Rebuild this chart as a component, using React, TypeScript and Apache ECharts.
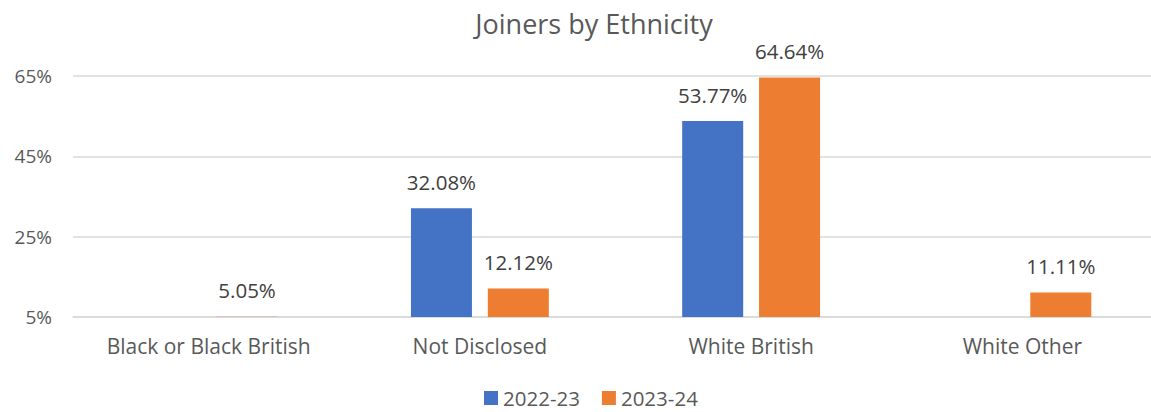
import React, { useEffect, useRef } from "react";
import * as echarts from "echarts";

const categories = ["Black or Black British", "Not Disclosed", "White British", "White Other"];
const seriesNames = ["2022-23", "2023-24"];
const values2022 = [null, 32.08, 53.77, null];
const values2023 = [5.05, 12.12, 64.64, 11.11];
const colors = ["#4472C4", "#ED7D31"];
const yMin = 5;
const yMax = 65;
const yInterval = 20;

const FONT = "'Open Sans', 'Noto Sans', sans-serif";

export default function App() {
  const ref = useRef<HTMLDivElement>(null);
  useEffect(() => {
    if (!ref.current) return;
    const chart = echarts.init(ref.current, undefined, { renderer: "svg" });
    const label = {
      show: true,
      position: "top",
      distance: 16,
      color: "#404040",
      fontSize: 20.5,
      fontFamily: FONT,
      formatter: (p: any) => (p.value == null ? "" : Number(p.value).toFixed(2) + "%"),
    };
    chart.setOption({
      animation: false,
      textStyle: { fontFamily: FONT },
      title: {
        text: "Joiners by Ethnicity",
        left: 589,
        textAlign: "center",
        top: 5,
        textStyle: { fontFamily: FONT, fontSize: 27, fontWeight: "normal", color: "#595959" },
      },
      legend: {
        data: seriesNames,
        top: 382,
        left: 479,
        itemWidth: 14,
        itemHeight: 14,
        itemGap: 22,
        icon: "rect",
        textStyle: { fontFamily: FONT, fontSize: 20.5, lineHeight: 22, color: "#595959" },
      },
      grid: { left: 73, right: 2, top: 76, bottom: 95 },
      xAxis: {
        type: "category",
        data: categories,
        axisLine: { show: true, lineStyle: { color: "#d9d9d9", width: 1.5 } },
        axisTick: { show: false },
        axisLabel: { fontFamily: FONT, fontSize: 21, color: "#595959", margin: 18 },
      },
      yAxis: {
        type: "value",
        min: yMin,
        max: yMax,
        interval: yInterval,
        axisLine: { show: false },
        axisTick: { show: false },
        axisLabel: { formatter: "{value}%", fontFamily: FONT, fontSize: 19, color: "#595959", margin: 21 },
        splitLine: { lineStyle: { color: "#d9d9d9", width: 1.5 } },
      },
      series: [
        {
          name: seriesNames[0],
          type: "bar",
          data: values2022,
          barWidth: 61,
          barGap: "26%",
          itemStyle: { color: colors[0] },
          label,
        },
        {
          name: seriesNames[1],
          type: "bar",
          data: values2023,
          barWidth: 61,
          barGap: "26%",
          itemStyle: { color: colors[1] },
          label,
        },
      ],
    });
    return () => chart.dispose();
  }, []);
  return (
    <div
      style={{ position: "fixed", left: 0, top: 0, width: 1151, height: 412, overflow: "hidden", background: "#fff" }}
    >
      <div ref={ref} style={{ width: 1160, height: 412 }} />
    </div>
  );
}
